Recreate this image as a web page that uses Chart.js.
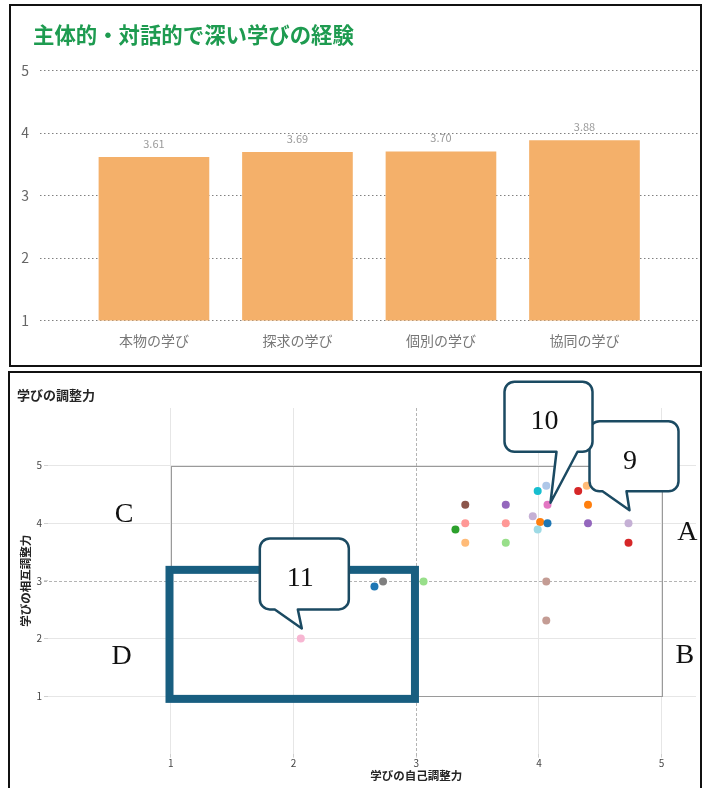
<!DOCTYPE html>
<html lang="ja">
<head>
<meta charset="utf-8">
<script src="https://cdn.jsdelivr.net/npm/chart.js@4.4.1/dist/chart.umd.min.js"></script>
<style>
  html, body { margin: 0; padding: 0; background: #fff; }
  body { width: 703px; height: 788px; position: relative; overflow: hidden; }
  .panel { position: absolute; box-sizing: border-box; border: 2px solid #111; background: #fff; }
  #p1 { left: 9px; top: 4px; width: 693px; height: 363px; }
  #p2 { left: 8px; top: 371px; width: 694px; height: 422px; }
  canvas { display: block; }
</style>
</head>
<body>
<div class="panel" id="p1"><canvas id="bar" width="689" height="359"></canvas></div>
<div class="panel" id="p2"><canvas id="scatter" width="690" height="416"></canvas></div>
<script>
// ---- bar chart: experience of active, dialogic and deep learning ----
const barTitle = '主体的・対話的で深い学びの経験';
const barCategories = ['本物の学び', '探求の学び', '個別の学び', '協同の学び'];
const barValues = [3.61, 3.69, 3.70, 3.88];
const barTicks = [1, 2, 3, 4, 5];

// ---- scatter: self-regulation vs. mutual regulation ----
const scatterTitle = '学びの調整力';
const xTitle = '学びの自己調整力';
const yTitle = '学びの相互調整力';
const scatterTicks = [1, 2, 3, 4, 5];
const selfRegulation   = [2.06, 2.66, 2.73, 3.06, 3.32, 3.40, 3.40, 3.40, 3.73, 3.73, 3.73, 3.95, 3.99, 4.01, 3.99, 4.06, 4.07, 4.07, 4.06, 4.06, 4.32, 4.39, 4.40, 4.40, 4.73, 4.73];
const mutualRegulation = [2.00, 2.90, 2.99, 2.99, 3.89, 4.32, 4.00, 3.66, 4.32, 4.00, 3.66, 4.12, 4.56, 4.02, 3.89, 4.65, 4.32, 4.00, 2.99, 2.31, 4.56, 4.65, 4.32, 4.00, 4.00, 3.66];
const pointColors = ['#f7b6d2', '#1f77b4', '#7f7f7f', '#98df8a', '#2ca02c', '#8c564b', '#ff9896', '#ffbb78', '#9467bd', '#ff9896', '#98df8a', '#c5b0d5', '#17becf', '#ff7f0e', '#9edae5', '#aec7e8', '#e377c2', '#1f77b4', '#c49c94', '#c49c94', '#d62728', '#ffbb78', '#ff7f0e', '#9467bd', '#c5b0d5', '#d62728'];

// reference lines, the outer frame and the highlighted region (axis units)
const midLine = 3;
const frame = { x0: 1, y0: 1, x1: 5, y1: 5 };
const focusBox = { x0: 0.99, y0: 0.95, x1: 2.99, y1: 3.19 };

// speech-bubble callouts pointing at individual schools
const callouts = [
  { text: '9',  point: 24, box: [-39, -102, 89, 70], tail: [13, 37], tip: [1, -13] },
  { text: '10', point: 16, box: [-43, -123, 88, 70], tail: [52, 73], tip: [3, -2] },
  { text: '11', point: 0,  box: [-41, -100, 89, 71], tail: [15, 38], tip: [1, -10] }
];

// quadrant letters (axis units)
const quadrants = [
  { text: 'A', x: 5.21, y: 3.83 },
  { text: 'B', x: 5.19, y: 1.70 },
  { text: 'C', x: 0.62, y: 4.14 },
  { text: 'D', x: 0.60, y: 1.68 }
];

const FONT = "'Noto Sans CJK JP', 'Noto Sans', sans-serif";
const SERIF = "'Liberation Serif', 'DejaVu Serif', serif";

const barDecor = {
  id: 'barDecor',
  afterDatasetsDraw(chart) {
    const ctx = chart.ctx;
    const meta = chart.getDatasetMeta(0);
    ctx.save();
    ctx.fillStyle = '#9a9a9a';
    ctx.font = '11px ' + FONT;
    ctx.textAlign = 'center';
    ctx.textBaseline = 'middle';
    meta.data.forEach((bar, i) => ctx.fillText(barValues[i].toFixed(2), bar.x, bar.y - 14));
    ctx.restore();
  },
  afterDraw(chart) {
    const ctx = chart.ctx;
    ctx.save();
    ctx.fillStyle = '#1e9b50';
    ctx.font = 'bold 21.4px ' + FONT;
    ctx.textAlign = 'left';
    ctx.textBaseline = 'middle';
    ctx.fillText(barTitle, 22, 29);
    ctx.restore();
  }
};

new Chart(document.getElementById('bar'), {
  type: 'bar',
  data: {
    datasets: [{
      data: barValues.map((v, i) => ({ x: i + 1, y: v })),
      backgroundColor: '#f4b06a',
      barThickness: 110
    }]
  },
  options: {
    responsive: false,
    animation: false,
    events: [],
    layout: { padding: { top: 64.5, left: 0, right: 0, bottom: 0 } },
    plugins: { legend: { display: false }, tooltip: { enabled: false } },
    scales: {
      x: {
        type: 'linear',
        min: 0.206,
        max: 4.805,
        offset: false,
        afterBuildTicks: s => { s.ticks = barCategories.map((_, i) => ({ value: i + 1 })); },
        afterFit: s => { s.height = 44.5; },
        grid: { display: false, offset: false },
        border: { display: false },
        ticks: {
          autoSkip: false,
          maxRotation: 0,
          padding: 4,
          color: '#777',
          font: { size: 14, family: FONT },
          callback: v => barCategories[Math.round(v) - 1] || ''
        }
      },
      y: {
        min: 1,
        max: 5,
        afterBuildTicks: s => { s.ticks = barTicks.map(v => ({ value: v })); },
        afterFit: s => { s.width = 29; },
        grid: { color: '#808080', lineWidth: 1, drawTicks: false },
        border: { display: false, dash: [1.5, 2.5] },
        ticks: { padding: 11, color: '#666', font: { size: 14, family: FONT } }
      }
    }
  },
  plugins: [barDecor]
});

function bubblePath(ctx, x, y, w, h, r, t1, t2, tx, ty) {
  ctx.beginPath();
  ctx.moveTo(x + r, y);
  ctx.lineTo(x + w - r, y);
  ctx.arcTo(x + w, y, x + w, y + r, r);
  ctx.lineTo(x + w, y + h - r);
  ctx.arcTo(x + w, y + h, x + w - r, y + h, r);
  ctx.lineTo(x + t2, y + h);
  ctx.lineTo(tx, ty);
  ctx.lineTo(x + t1, y + h);
  ctx.lineTo(x + r, y + h);
  ctx.arcTo(x, y + h, x, y + h - r, r);
  ctx.lineTo(x, y + r);
  ctx.arcTo(x, y, x + r, y, r);
  ctx.closePath();
}

const scatterDecor = {
  id: 'scatterDecor',
  beforeDatasetsDraw(chart) {
    const { ctx, chartArea: a, scales: { x, y } } = chart;
    ctx.save();
    // dashed mid reference lines
    ctx.strokeStyle = '#b4b4b4';
    ctx.lineWidth = 1;
    ctx.setLineDash([3, 2]);
    const mx = Math.round(x.getPixelForValue(midLine)) + 0.5;
    const my = Math.round(y.getPixelForValue(midLine)) + 0.5;
    ctx.beginPath();
    ctx.moveTo(mx, a.top); ctx.lineTo(mx, a.bottom + 4);
    ctx.moveTo(a.left - 4, my); ctx.lineTo(a.right, my);
    ctx.stroke();
    // outer frame
    ctx.setLineDash([]);
    ctx.strokeStyle = '#9a9a9a';
    const fx0 = Math.round(x.getPixelForValue(frame.x0)) + 0.5;
    const fx1 = Math.round(x.getPixelForValue(frame.x1)) + 0.5;
    const fy0 = Math.round(y.getPixelForValue(frame.y0)) + 0.5;
    const fy1 = Math.round(y.getPixelForValue(frame.y1)) + 0.5;
    ctx.strokeRect(fx0, fy1, fx1 - fx0, fy0 - fy1);
    ctx.restore();
  },
  afterDatasetsDraw(chart) {
    const { ctx, scales: { x, y } } = chart;
    const meta = chart.getDatasetMeta(0);
    ctx.save();
    // highlighted region
    const bx0 = x.getPixelForValue(focusBox.x0), bx1 = x.getPixelForValue(focusBox.x1);
    const by0 = y.getPixelForValue(focusBox.y0), by1 = y.getPixelForValue(focusBox.y1);
    ctx.strokeStyle = '#185e80';
    ctx.lineWidth = 8;
    ctx.lineJoin = 'miter';
    ctx.strokeRect(bx0, by1, bx1 - bx0, by0 - by1);

    // callouts
    callouts.forEach(c => {
      const p = meta.data[c.point];
      const bx = p.x + c.box[0], by = p.y + c.box[1], bw = c.box[2], bh = c.box[3];
      bubblePath(ctx, bx, by, bw, bh, 10, c.tail[0], c.tail[1], p.x + c.tip[0], p.y + c.tip[1]);
      ctx.fillStyle = '#fff';
      ctx.fill();
      ctx.lineWidth = 2.5;
      ctx.lineJoin = 'round';
      ctx.strokeStyle = '#1b4a62';
      ctx.stroke();
      ctx.fillStyle = '#111';
      ctx.font = '28px ' + SERIF;
      ctx.textAlign = 'center';
      ctx.textBaseline = 'middle';
      ctx.fillText(c.text, bx + bw / 2 - 4, by + bh / 2 + 5);
    });

    // quadrant letters
    ctx.fillStyle = '#111';
    ctx.font = '28px ' + SERIF;
    ctx.textAlign = 'center';
    ctx.textBaseline = 'middle';
    quadrants.forEach(q => ctx.fillText(q.text, x.getPixelForValue(q.x), y.getPixelForValue(q.y)));
    ctx.restore();
  },
  afterDraw(chart) {
    const { ctx, scales: { x, y } } = chart;
    ctx.save();
    ctx.fillStyle = '#252525';
    ctx.textBaseline = 'middle';
    ctx.font = 'bold 13px ' + FONT;
    ctx.textAlign = 'left';
    ctx.fillText(scatterTitle, 7, 22);
    ctx.font = 'bold 11.5px ' + FONT;
    ctx.textAlign = 'center';
    ctx.fillText(xTitle, x.getPixelForValue(midLine), 403);
    ctx.translate(16, y.getPixelForValue(midLine));
    ctx.rotate(-Math.PI / 2);
    ctx.fillText(yTitle, 0, 0);
    ctx.restore();
  }
};

const gridColor = c => (c.tick && c.tick.value === midLine) ? 'rgba(0,0,0,0)' : '#e6e6e6';

new Chart(document.getElementById('scatter'), {
  type: 'scatter',
  data: {
    datasets: [{
      data: selfRegulation.map((v, i) => ({ x: v, y: mutualRegulation[i] })),
      pointBackgroundColor: pointColors,
      pointBorderWidth: 0,
      pointRadius: 4,
      pointHoverRadius: 4
    }]
  },
  options: {
    responsive: false,
    animation: false,
    events: [],
    layout: { padding: { top: 35, left: 0, right: 0, bottom: 0 } },
    plugins: { legend: { display: false }, tooltip: { enabled: false } },
    scales: {
      x: {
        type: 'linear',
        min: 0,
        max: 5.28,
        afterBuildTicks: s => { s.ticks = scatterTicks.map(v => ({ value: v })); },
        afterFit: s => { s.height = 35.4; },
        grid: { color: gridColor, tickColor: '#cfcfcf', tickLength: 4 },
        border: { display: false },
        ticks: { padding: 0, color: '#444', font: { size: 10, family: FONT } }
      },
      y: {
        type: 'linear',
        min: 0,
        max: 6,
        afterBuildTicks: s => { s.ticks = scatterTicks.map(v => ({ value: v })); },
        afterFit: s => { s.width = 38; },
        grid: { color: gridColor, tickColor: '#cfcfcf', tickLength: 4 },
        border: { display: false },
        ticks: { padding: 2, color: '#444', font: { size: 10, family: FONT } }
      }
    }
  },
  plugins: [scatterDecor]
});
</script>
</body>
</html>
